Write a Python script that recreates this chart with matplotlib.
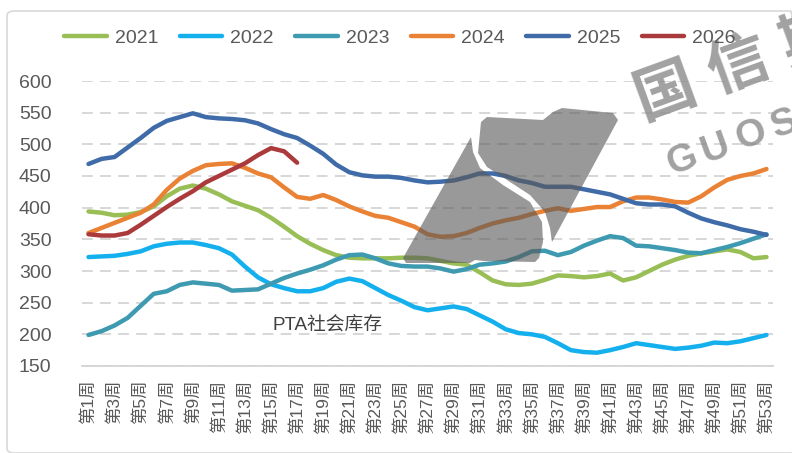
import numpy as np
import matplotlib.pyplot as plt
from matplotlib.patches import Polygon, FancyBboxPatch

plt.rcParams['font.family'] = ['Liberation Sans', 'Noto Sans CJK SC', 'DejaVu Sans']

weeks = np.arange(1, 54)
week_labels = ['第%d周' % w for w in weeks]
years = ['2021', '2022', '2023', '2024', '2025', '2026']

y2021 = [394, 392, 388, 389, 393, 402, 418, 430, 435, 430, 421, 410, 403, 396, 384, 370, 355, 343, 333, 325,
         321, 320, 320, 320, 321, 321, 320, 316, 312, 310, 298, 285, 279, 278, 280, 286, 293, 292, 290, 292,
         296, 285, 290, 300, 310, 318, 324, 328, 331, 334, 330, 320, 322]
y2022 = [322, 323, 324, 327, 331, 339, 343, 345, 345, 341, 336, 326, 307, 290, 279, 273, 268, 268, 273, 283,
         288, 284, 273, 262, 253, 243, 238, 241, 244, 240, 230, 220, 208, 202, 200, 196, 186, 175, 172, 171,
         175, 180, 186, 183, 180, 177, 179, 182, 187, 186, 189, 194, 199]
y2023 = [199, 205, 214, 226, 245, 264, 268, 278, 282, 280, 278, 269, 270, 271, 280, 289, 296, 302, 309, 318,
         325, 326, 320, 312, 308, 307, 307, 304, 299, 303, 310, 312, 315, 322, 331, 332, 325, 330, 340, 348,
         355, 352, 340, 339, 336, 333, 329, 328, 333, 338, 344, 351, 358]
y2024 = [360, 368, 376, 384, 392, 405, 428, 446, 458, 467, 469, 470, 463, 454, 448, 432, 417, 414, 420, 412,
         402, 394, 387, 384, 377, 370, 358, 354, 355, 360, 368, 375, 380, 384, 390, 395, 399, 395, 398, 401,
         401, 410, 416, 416, 413, 409, 408, 418, 432, 444, 450, 454, 461]
y2025 = [469, 477, 480, 495, 510, 526, 537, 543, 549, 543, 541, 540, 538, 533, 524, 516, 510, 498, 485, 468,
         456, 451, 449, 449, 447, 443, 440, 441, 443, 448, 454, 454, 450, 443, 439, 433, 433, 433, 429, 425,
         421, 414, 407, 405, 405, 402, 392, 383, 377, 372, 366, 362, 357]
y2026 = [358, 356, 356, 360, 373, 387, 401, 414, 426, 440, 450, 460, 470, 483, 494, 489, 471]

series = [y2021, y2022, y2023, y2024, y2025, y2026]
colors = ['#98BE55', '#14B0EE', '#3E9AB0', '#EA8235', '#3F6BA8', '#AA3A3B']

fig = plt.figure(figsize=(7.92, 4.53), dpi=100)
ax = fig.add_axes([82 / 792, 1 - 366 / 453, (773 - 82) / 792, (366 - 81) / 453])

# chart frame
fig.patches.append(FancyBboxPatch((7 / 792, 0.0), 0.999, 1 - 11 / 453,
                                  boxstyle='round,pad=0,rounding_size=0.01',
                                  transform=fig.transFigure, fill=False,
                                  edgecolor='#d9d9d9', linewidth=1.2))

for name, vals, c in zip(years, series, colors):
    ax.plot(weeks[:len(vals)], vals, color=c, lw=3.2, label=name,
            solid_capstyle='round', solid_joinstyle='round', zorder=3)

ax.set_xlim(0.5, 53.5)
ax.set_ylim(150, 600)
ax.set_yticks(np.arange(150, 601, 50))
ax.set_xticks(weeks[::2])
ax.set_xticklabels(week_labels[::2], rotation=90, fontsize=12.5, color='#595959')
ax.tick_params(axis='y', length=0, pad=22, labelsize=14, labelcolor='#595959')
ax.tick_params(axis='x', length=0, pad=10)
ax.grid(axis='y', color='#d4d4d4', ls=(0, (6, 4)), lw=1.3)
ax.set_axisbelow(True)
for s in ['top', 'right', 'left']:
    ax.spines[s].set_visible(False)
ax.spines['bottom'].set_color('#d4d4d4')
ax.spines['bottom'].set_linewidth(1.3)

ax.text(272 / 792, 1 - 326 / 453, 'PTA社会库存', transform=fig.transFigure,
        fontsize=13.5, color='#404040', va='center', ha='left')

fig.legend(loc='center', bbox_to_anchor=(0.505, 1 - 38 / 453), ncol=6, frameon=False,
           fontsize=14, handlelength=2.2, handletextpad=0.4, columnspacing=1.1,
           labelcolor='#595959')

# watermark logo
def px(pts):
    return [(x / 792, 1 - y / 453) for x, y in pts]

left_piece = [(471, 137), (403, 258), (406, 263), (470, 263), (475, 260), (484, 261),
              (535, 262), (539, 258), (543, 242), (542, 222), (530, 202), (503, 185),
              (480, 168), (473, 152)]
right_piece = [(481, 122), (487, 117), (543, 120), (553, 112), (562, 108), (613, 113),
               (618, 120), (552, 242), (550, 228), (545, 212), (530, 195), (507, 180),
               (487, 167), (478, 153)]
for pts in (left_piece, right_piece):
    fig.patches.append(Polygon(px(pts), closed=True, transform=fig.transFigure,
                               facecolor='#5a5a5a', edgecolor='none', alpha=0.62, zorder=5))

# watermark text, placed letter by letter along a 20 degree baseline
ang = np.deg2rad(20)
def wm_text(s, x0, y0, step, size):
    for i, ch in enumerate(s):
        x = x0 + i * step * np.cos(ang)
        y = y0 - i * step * np.sin(ang)
        fig.text(x / 792, 1 - y / 453, ch, fontsize=size, fontweight='bold', color='#8a8a8a',
                 alpha=0.8, rotation=20, ha='left', va='bottom', rotation_mode='anchor')

wm_text('国信期货', 647, 132, 78, 44)
wm_text('GUOSEN', 674, 183, 37, 28)

fig.savefig('out.png', dpi=100)
